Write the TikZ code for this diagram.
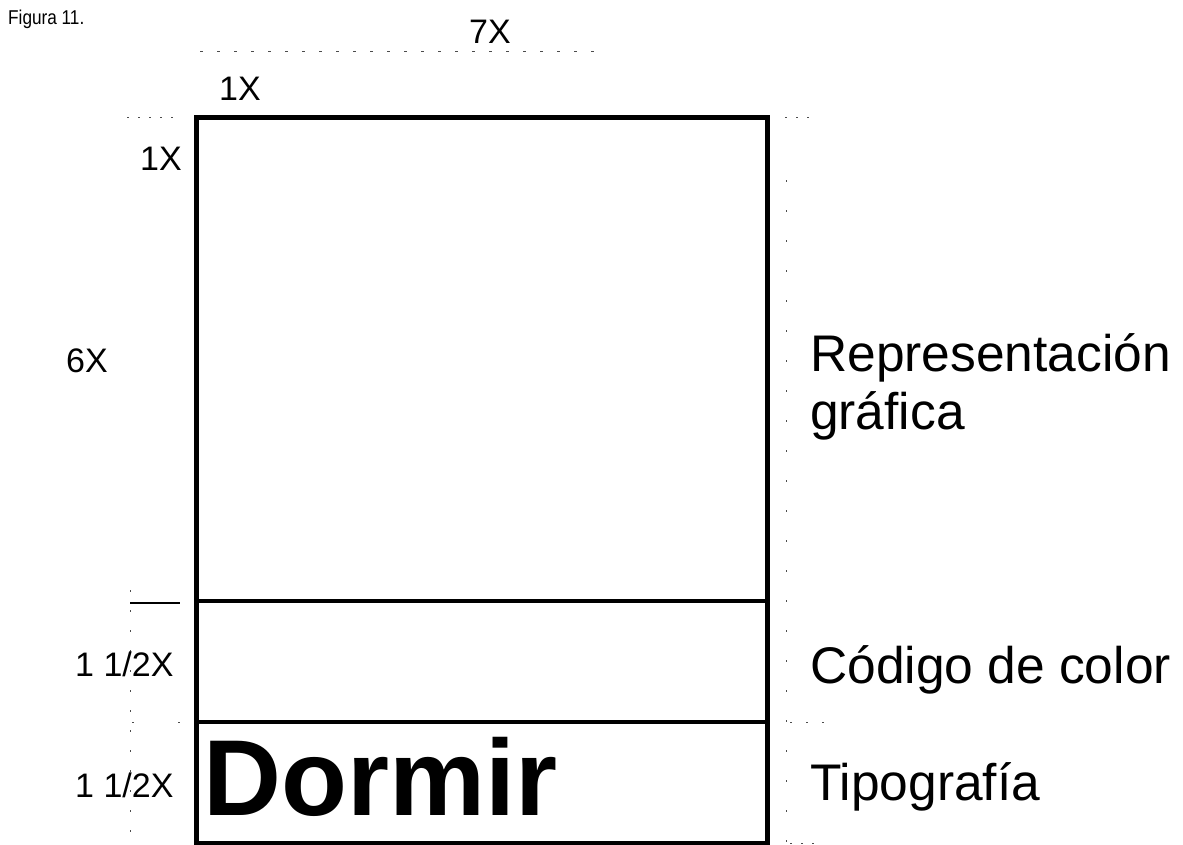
\documentclass[tikz,border=0pt]{standalone}
\usepackage{fontspec}
\setmainfont{Liberation Sans}
\begin{document}
\begin{tikzpicture}[x=1pt,y=-1pt,
  lbl/.style={inner sep=0pt,anchor=base west,font=\fontsize{34}{40}\selectfont},
  big/.style={inner sep=0pt,anchor=base west,font=\fontsize{51.5}{60}\selectfont},
  frame/.style={line width=5pt,line cap=rect},
  divider/.style={line width=3.5pt},
  guide/.style={line width=0.9pt,black!70,dash pattern=on 2pt off 9pt},
  tickline/.style={line width=1.2pt}]
\useasboundingbox (0,0) rectangle (1183,844);
% main panel
\coordinate (tl) at (196,117);
\coordinate (tr) at (767,117);
\coordinate (bl) at (196,843);
\coordinate (br) at (767,843);
\coordinate (d1l) at (196,601);
\coordinate (d1r) at (767,601);
\coordinate (d2l) at (196,722);
\coordinate (d2r) at (767,722);
\draw[frame] (tl) -- (tr) -- (br) -- (bl) -- cycle;
\draw[divider] (d1l) -- (d1r);
\draw[divider] (d2l) -- (d2r);
% guide lines
\coordinate (g7a) at (200,51);
\coordinate (g7b) at (600,51);
\draw[guide,dash pattern=on 3pt off 14pt] (g7a) -- (g7b);
\coordinate (gla) at (127,117);
\coordinate (glb) at (180,117);
\draw[guide] (gla) -- (glb);
\coordinate (gra) at (785,117);
\coordinate (grb) at (812,117);
\draw[guide] (gra) -- (grb);
\coordinate (gva) at (786,180);
\coordinate (gvb) at (786,843);
\draw[guide,dash pattern=on 2pt off 28pt] (gva) -- (gvb);
\coordinate (gwa) at (130,590);
\coordinate (gwb) at (130,836);
\draw[guide,dash pattern=on 2pt off 18pt] (gwa) -- (gwb);
\coordinate (sla) at (130,603);
\coordinate (slb) at (180,603);
\draw[tickline] (sla) -- (slb);
\coordinate (t2a) at (132,722);
\coordinate (t2b) at (180,722);
\draw[guide,dash pattern=on 2pt off 44pt] (t2a) -- (t2b);
\coordinate (t3a) at (790,722);
\coordinate (t3b) at (830,722);
\draw[guide,dash pattern=on 2pt off 14pt] (t3a) -- (t3b);
\coordinate (t4a) at (790,843);
\coordinate (t4b) at (815,843);
\draw[guide] (t4a) -- (t4b);
% labels
\node[inner sep=0pt,anchor=base west,font=\fontsize{20}{24}\selectfont,xscale=0.86] (fig) at (8,24) {Figura 11.};
\node[lbl] (sevenx) at (469,43) {7X};
\node[lbl] (onextop) at (219,100) {1X};
\node[lbl] (onexleft) at (140,170) {1X};
\node[lbl] (sixx) at (66,372) {6X};
\node[lbl] (halfa) at (75,676) {1 1/2X};
\node[lbl] (halfb) at (75,797) {1 1/2X};
\node[inner sep=0pt,anchor=base west,font=\bfseries\fontsize{108}{120}\selectfont] (dormir) at (203,815) {Dormir};
\node[big] (rep) at (810,371) {Representación};
\node[big] (graf) at (810,429) {gráfica};
\node[big] (cod) at (810,683) {Código de color};
\node[big] (tipo) at (810,800) {Tipografía};
\end{tikzpicture}
\end{document}
